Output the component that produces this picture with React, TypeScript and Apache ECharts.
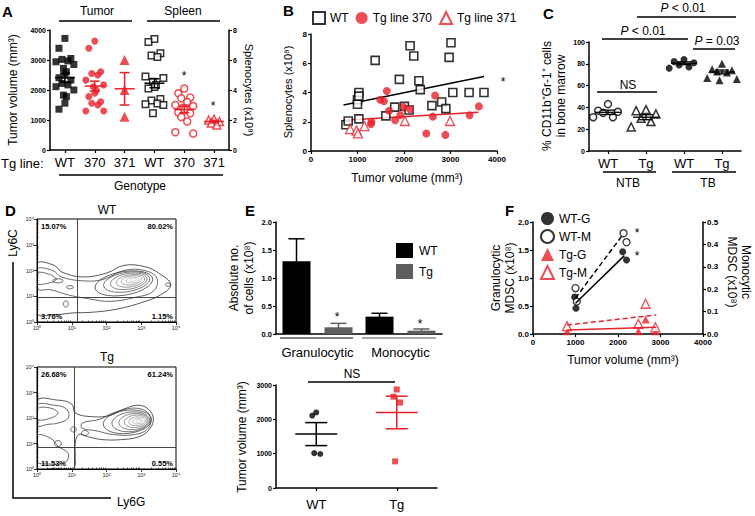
import React, { useEffect, useRef } from 'react';
import * as echarts from 'echarts';

const FONT = '"Liberation Sans", Arial, Helvetica, sans-serif';
const RED = '#e8202a';
const GREY = '#5e5e5e';

// ---------------- Panel A ----------------
const aTickLabels = ['WT', '370', '371', 'WT', '370', '371'];
const aTumorWT = [3720, 3390, 3050, 3020, 2970, 2940, 2850, 2720, 2610, 2500, 2410, 2330, 2220, 2170, 2110, 2000, 1830, 1780, 1560, 1360];
const aTumor370 = [3630, 3390, 2610, 2550, 2500, 2330, 2170, 2110, 2000, 1890, 1780, 1610, 1560, 1500, 1300, 1300];
const aTumor371 = [3000, 2000, 1110];
const aSpleenWT = [7.4, 7.2, 6.45, 6.3, 6.2, 4.9, 4.8, 4.55, 4.33, 4.2, 4.1, 3.4, 3.3, 3.1, 3.05, 3.0, 2.45];
const aSpleen370 = [4.1, 3.78, 3.5, 3.45, 3.2, 3.0, 2.93, 2.82, 2.78, 2.67, 2.5, 2.45, 2.2, 1.9, 1.18, 1.1];
const aSpleen371 = [2.05, 2.0, 1.9, 1.8, 1.67];
const aTumorMean = [2410, 2130, 2040];
const aTumorSem = [150, 165, 540];
const aSpleenMean = [4.45, 2.7, 1.9];
const aSpleenSem = [0.3, 0.22, 0.08];

// ---------------- Panel B ----------------
const bWT = [[750, 1.8], [800, 2.05], [1030, 2.2], [1000, 3.5], [1000, 3.2], [1030, 4.0], [1030, 3.75], [1380, 6.2], [1610, 2.4], [1900, 4.9], [1800, 3.0], [2010, 3.05], [2110, 2.8], [2130, 7.2], [2210, 6.5], [2320, 4.8], [2350, 4.2], [2600, 3.1], [2810, 3.35], [2900, 2.9], [2970, 6.4], [3010, 7.4], [3050, 4.0], [3400, 4.0], [3720, 4.0]];
const bTg370 = [[1300, 2.0], [1290, 1.85], [1490, 3.5], [1570, 3.4], [1630, 4.1], [1680, 2.75], [1810, 2.1], [1920, 2.45], [1990, 3.0], [2130, 2.85], [2480, 1.2], [2620, 2.35], [2670, 3.8], [2890, 1.1], [3410, 2.45], [3610, 3.05]];
const bTg371 = [[840, 1.5], [980, 1.4], [1010, 1.2], [1150, 1.7], [2020, 2.05], [2990, 2.05]];
const bWTFit = [[700, 3.15], [3720, 5.1]];
const bTgFit = [[700, 2.1], [3600, 2.65]];

// ---------------- Panel C ----------------
const cTickLabels = ['WT', 'Tg', 'WT', 'Tg'];
const cNtbWT = [43, 37, 36, 35, 31, 31];
const cNtbTg = [38, 37, 34, 30, 27, 22];
const cTbWT = [84, 82, 81, 79, 77, 76];
const cTbTg = [80, 75, 74, 73, 72, 67, 66, 65];
const cMean = [35.5, 31, 80.5, 72.5];
const cSem = [2, 2.3, 1.3, 1.8];

// ---------------- Panel D ----------------
const dWTPct = ['15.07%', '80.02%', '3.76%', '1.15%'];
const dTgPct = ['26.68%', '61.24%', '11.53%', '0.55%'];
const dWTGate = [1.15, 0.97];
const dTgGate = [1.06, 0.86];
const dWTTraced = [
  [[0, 2.25], [0.5, 2.2], [0.7, 1.95], [1.3, 1.75], [2.0, 1.9], [2.5, 2.2], [3.1, 2.15], [3.5, 1.9], [3.85, 1.45], [3.55, 1.05], [3.0, 0.75], [2.3, 0.5], [1.6, 0.38], [1.0, 0.35], [0.5, 0.28], [0, 0.35]],
  [[0, 2.05], [0.45, 2.0], [0.7, 1.75], [1.3, 1.6], [1.9, 1.65], [2.5, 2.0], [3.1, 2.0], [3.45, 1.7], [3.35, 1.2], [2.8, 0.95], [2.1, 0.8], [1.5, 0.9], [0.9, 1.05], [0.4, 1.25], [0, 1.3]],
  [[0, 1.9], [0.35, 1.85], [0.55, 1.65], [0.3, 1.5], [0, 1.5]],
];
const dWTCore = [[2.5, 1.5, 0.85, 0.45, 15], [2.58, 1.55, 0.68, 0.37, 15], [2.64, 1.58, 0.54, 0.3, 15], [2.69, 1.6, 0.42, 0.23, 15], [2.72, 1.62, 0.3, 0.17, 15], [2.75, 1.63, 0.19, 0.11, 15], [2.77, 1.64, 0.09, 0.06, 15]];
const dWTLoops = [[3.77, 1.45, 0.07, 0.07, 0], [0.83, 0.7, 0.07, 0.12, 0], [0.6, 1.6, 0.15, 0.08, 0], [0.95, 1.35, 0.1, 0.06, 0]];
const dTgTraced = [
  [[0, 2.65], [0.6, 2.7], [1.0, 2.55], [1.1, 2.2], [1.6, 2.05], [2.1, 2.1], [2.5, 2.35], [2.9, 2.5], [3.2, 2.35], [3.35, 1.95], [3.2, 1.5], [2.9, 1.25], [2.4, 1.15], [1.9, 1.15], [1.5, 1.25], [1.2, 1.35], [1.1, 1.0], [1.1, 0.5], [1.05, 0.05], [0.5, 0.03], [0, 0.05]],
  [[1.3, 1.8], [1.8, 1.95], [2.3, 2.25], [2.9, 2.38], [3.25, 2.1], [3.2, 1.6], [2.8, 1.35], [2.2, 1.35], [1.7, 1.5], [1.3, 1.6]],
  [[0, 2.5], [0.5, 2.5], [0.85, 2.35], [0.9, 2.0], [0.6, 1.8], [0.3, 1.75], [0, 1.7]],
  [[0, 2.35], [0.35, 2.4], [0.6, 2.2], [0.4, 2.0], [0, 1.95]],
  [[0, 1.3], [0.4, 1.2], [0.6, 0.9], [0.9, 0.6], [0.8, 0.25], [0.3, 0.2], [0, 0.3]],
];
const dTgCore = [[2.6, 1.85, 0.7, 0.45, 12], [2.7, 1.85, 0.55, 0.38, 12], [2.78, 1.86, 0.43, 0.31, 12], [2.84, 1.87, 0.33, 0.24, 12], [2.88, 1.87, 0.24, 0.17, 12], [2.9, 1.87, 0.15, 0.1, 12], [2.92, 1.87, 0.07, 0.05, 12]];
const dTgLoops = [[1.38, 1.41, 0.1, 0.1, 0], [1.05, 1.55, 0.08, 0.1, 0], [0.6, 1.0, 0.1, 0.12, 0]];

// ---------------- Panel E ----------------
const eCats = ['Granulocytic', 'Monocytic'];
const eWT = [1.3, 0.31];
const eTg = [0.12, 0.06];
const eWTErr = [0.4, 0.06];
const eTgErr = [0.07, 0.03];
const eTickLabels = ['WT', 'Tg'];
const eTumorWT = [2200, 2110, 990, 1015];
const eTumorTg = [2870, 2660, 2490, 775];
const eTumorMean = [1570, 2200];
const eTumorSem = [335, 475];

// ---------------- Panel F ----------------
const fWTG = [[980, 0.66], [1010, 0.46], [2110, 1.47], [2200, 1.32]];
const fWTM = [[1000, 0.205], [1030, 0.145], [2130, 0.45], [2200, 0.41]];
const fTgG = [[800, 0.05], [2480, 0.05], [2650, 0.26], [2880, 0.05]];
const fTgM = [[800, 0.035], [2480, 0.045], [2650, 0.135], [2880, 0.03]];
const fWTGFit = [[1000, 0.55], [2150, 1.4]];
const fWTMFit = [[1000, 0.16], [2100, 0.44]];
const fTgGFit = [[800, 0.07], [2900, 0.12]];
const fTgMFit = [[800, 0.04], [2900, 0.085]];

// ---------------- helpers ----------------
const SWARM = [0, -0.2, 0.2, -0.1, 0.1, -0.3, 0.3, -0.05, 0.05];
const swarm = (vals: number[], pos: number, spread: number) =>
  vals.map((v, i) => [pos + SWARM[i % SWARM.length] * spread, v]);

const LOG_MINOR: number[] = [];
for (let d = 0; d < 4; d++) for (let k = 2; k <= 9; k++) LOG_MINOR.push(d + Math.log10(k));
const SUP = ['⁰', '¹', '²', '³', '⁴'];

function ax(gridIndex: number, o: any = {}, lbl: any = {}, tick: any = {}, line: any = {}) {
  return {
    gridIndex,
    type: 'value',
    axisLine: { show: true, onZero: false, lineStyle: { color: '#000', width: 1.5, ...line } },
    axisTick: { show: true, length: 3, lineStyle: { color: '#000', width: 1.2 }, ...tick },
    axisLabel: { color: '#000', fontSize: 7, fontWeight: 'bold', fontFamily: FONT, margin: 4, formatter: (v: number) => String(v), ...lbl },
    splitLine: { show: false },
    ...o,
  };
}

const logLbl = { fontSize: 5.5, fontWeight: 'normal', color: '#222', margin: 3, formatter: (v: number) => '10' + SUP[Math.round(v)] };
const minorAxis = (g: number) => ({
  gridIndex: g, type: 'value', min: 0, max: 4,
  axisLine: { show: false }, axisLabel: { show: false }, splitLine: { show: false },
  axisTick: { show: true, length: 1.5, customValues: LOG_MINOR, lineStyle: { color: '#000', width: 0.6 } },
});

function meanSemRender(meanHalf: number, capHalf: number, lw: number) {
  return (params: any, api: any) => {
    const x = api.value(0), m = api.value(1), s = api.value(2);
    const pm = api.coord([x, m]);
    const pt = api.coord([x, m + s]);
    const pb = api.coord([x, m - s]);
    const st = { stroke: api.visual('color'), lineWidth: lw };
    return {
      type: 'group',
      children: [
        { type: 'line', shape: { x1: pm[0] - meanHalf, y1: pm[1], x2: pm[0] + meanHalf, y2: pm[1] }, style: st },
        { type: 'line', shape: { x1: pt[0], y1: pt[1], x2: pb[0], y2: pb[1] }, style: st },
        { type: 'line', shape: { x1: pt[0] - capHalf, y1: pt[1], x2: pt[0] + capHalf, y2: pt[1] }, style: st },
        { type: 'line', shape: { x1: pb[0] - capHalf, y1: pb[1], x2: pb[0] + capHalf, y2: pb[1] }, style: st },
      ],
    };
  };
}

function ellipsePts(cx: number, cy: number, rx: number, ry: number, rotDeg: number) {
  const pts: number[][] = [];
  const r = (rotDeg * Math.PI) / 180;
  for (let k = 0; k < 36; k++) {
    const t = (k / 36) * 2 * Math.PI;
    const ex = rx * Math.cos(t), ey = ry * Math.sin(t);
    pts.push([cx + ex * Math.cos(r) - ey * Math.sin(r), cy + ex * Math.sin(r) + ey * Math.cos(r)]);
  }
  return pts;
}

type Shape = { pts: number[][]; color: string; smooth: number };
function buildShapes(traced: number[][][], core: number[][], loops: number[][]): Shape[] {
  const out: Shape[] = [];
  traced.forEach((pts, i) => out.push({ pts, color: i === 0 ? '#111' : '#2a2a2a', smooth: 0.4 }));
  core.forEach((e, i) => {
    const g = Math.round(0x22 + (i / Math.max(1, core.length - 1)) * (0xb4 - 0x22));
    const h = g.toString(16).padStart(2, '0');
    out.push({ pts: ellipsePts(e[0], e[1], e[2], e[3], e[4]), color: `#${h}${h}${h}`, smooth: 0 });
  });
  loops.forEach((e) => out.push({ pts: ellipsePts(e[0], e[1], e[2], e[3], e[4]), color: '#222', smooth: 0 }));
  return out;
}

function contourRender(shapes: Shape[]) {
  return (params: any, api: any) => {
    const sh = shapes[params.dataIndex];
    const pts = sh.pts.map((p) => api.coord(p));
    return { type: 'polygon', shape: { points: pts, smooth: sh.smooth }, style: { fill: 'none', stroke: sh.color, lineWidth: 0.7 } };
  };
}

const BAR_OFF = 21;
function barErrRender(params: any, api: any) {
  const cat = api.value(0), v = api.value(1), e = api.value(2), off = api.value(3);
  const p0 = api.coord([cat, v]);
  const p1 = api.coord([cat, v + e]);
  const x = p0[0] + off * BAR_OFF;
  const st = { stroke: api.visual('color'), lineWidth: 1.5 };
  return {
    type: 'group',
    children: [
      { type: 'line', shape: { x1: x, y1: p0[1] + 2, x2: x, y2: p1[1] }, style: st },
      { type: 'line', shape: { x1: x - 8, y1: p1[1], x2: x + 8, y2: p1[1] }, style: st },
    ],
  };
}

const txt = (x: number, y: number, text: string, o: any = {}) => ({
  type: 'text', x, y, rotation: o.rot ?? 0, z: 100,
  style: {
    text, fill: o.color ?? '#000',
    font: `${o.style ?? 'normal'} ${o.weight ?? 'normal'} ${o.size ?? 12}px ${FONT}`,
    align: o.align ?? 'center', verticalAlign: o.va ?? 'middle', rich: o.rich, lineHeight: o.lh,
  },
});
const ln = (x1: number, y1: number, x2: number, y2: number, w = 1.5, color = '#000') => ({
  type: 'line', z: 100, shape: { x1, y1, x2, y2 }, style: { stroke: color, lineWidth: w },
});
const pItal = (t: string, x: number, y: number) =>
  txt(x, y, '{i|P}' + t, { size: 12, rich: { i: { fontStyle: 'italic', fontSize: 12, fontFamily: FONT, fill: '#000' } } });

const openSym = (color: string, bw = 1.5) => ({ color: '#fff', borderColor: color, borderWidth: bw });

export default function App() {
  const ref = useRef<HTMLDivElement>(null);
  useEffect(() => {
    if (!ref.current) return;
    const chart = echarts.init(ref.current, null, { renderer: 'svg' });

    const wtShapes = buildShapes(dWTTraced, dWTCore, dWTLoops);
    const tgShapes = buildShapes(dTgTraced, dTgCore, dTgLoops);

    const gridBox = { show: true, borderColor: '#000', borderWidth: 1, backgroundColor: 'transparent' };

    const option: any = {
      animation: false,
      backgroundColor: '#fff',
      textStyle: { fontFamily: FONT },
      grid: [
        { left: 50, top: 30, width: 179, height: 120 },
        { left: 311, top: 34, width: 186, height: 117 },
        { left: 589, top: 42, width: 152, height: 109 },
        { left: 37, top: 219, width: 139, height: 103, ...gridBox },
        { left: 37, top: 367, width: 139, height: 102, ...gridBox },
        { left: 276, top: 222, width: 166, height: 112 },
        { left: 276, top: 385, width: 161, height: 103 },
        { left: 533, top: 222, width: 170, height: 112 },
      ],
      xAxis: [
        ax(0, { min: 0.5, max: 6.5 }, { customValues: [1, 2, 3, 4, 5, 6], formatter: (v: number) => aTickLabels[Math.round(v) - 1], fontSize: 13, fontWeight: 'normal', margin: 6 }, { customValues: [1, 2, 3, 4, 5, 6] }),
        ax(1, { min: 0, max: 4000, interval: 1000 }, { fontSize: 8 }),
        ax(2, { min: 0.5, max: 4.5 }, { customValues: [1, 2, 3, 4], formatter: (v: number) => cTickLabels[Math.round(v) - 1], fontSize: 13, fontWeight: 'normal', margin: 6 }, { customValues: [1, 2, 3, 4] }),
        ax(3, { min: 0, max: 4, interval: 1 }, logLbl, { lineStyle: { color: '#000', width: 0.8 } }, { width: 1 }),
        minorAxis(3),
        ax(4, { min: 0, max: 4, interval: 1 }, logLbl, { lineStyle: { color: '#000', width: 0.8 } }, { width: 1 }),
        minorAxis(4),
        {
          gridIndex: 5, type: 'category', data: eCats,
          axisLine: { show: true, lineStyle: { color: '#000', width: 1.5 } },
          axisTick: { show: false },
          axisLabel: { color: '#000', fontSize: 13, fontFamily: FONT, margin: 12, interval: 0 },
        },
        ax(6, { min: 0.5, max: 2.5 }, { customValues: [1, 2], formatter: (v: number) => eTickLabels[Math.round(v) - 1], fontSize: 13, fontWeight: 'normal', margin: 10 }, { customValues: [1, 2] }),
        ax(7, { min: 0, max: 4000, interval: 1000 }, { fontSize: 8 }),
      ],
      yAxis: [
        ax(0, { min: 0, max: 4000, interval: 1000 }, { fontSize: 7 }),
        ax(0, { min: 0, max: 8, interval: 2, position: 'right' }, { fontSize: 7 }),
        ax(1, { min: 0, max: 8, interval: 2 }, { fontSize: 8 }),
        ax(2, { min: 0, max: 100, interval: 20 }, { fontSize: 7 }),
        ax(3, { min: 0, max: 4, interval: 1 }, logLbl, { lineStyle: { color: '#000', width: 0.8 } }, { width: 1 }),
        minorAxis(3),
        ax(4, { min: 0, max: 4, interval: 1 }, logLbl, { lineStyle: { color: '#000', width: 0.8 } }, { width: 1 }),
        minorAxis(4),
        ax(5, { min: 0, max: 2, interval: 0.5 }, { fontSize: 7.5, formatter: (v: number) => v.toFixed(1) }),
        ax(6, { min: 0, max: 3000, interval: 1000 }, { fontSize: 7 }),
        ax(7, { min: 0, max: 2, interval: 0.5 }, { fontSize: 8, formatter: (v: number) => v.toFixed(1) }),
        ax(7, { min: 0, max: 0.5, interval: 0.1, position: 'right' }, { fontSize: 8, formatter: (v: number) => v.toFixed(1) }),
      ],
      legend: [
        {
          data: ['WT', 'Tg line 370', 'Tg line 371'], left: 312, top: 11, orient: 'horizontal',
          itemWidth: 12, itemHeight: 12, itemGap: 7, padding: 0, selectedMode: false,
          textStyle: { fontSize: 12, fontFamily: FONT, color: '#000' },
        },
        {
          data: ['WT-G', 'WT-M', 'Tg-G', 'Tg-M'], left: 540, top: 212, orient: 'vertical',
          itemWidth: 13, itemHeight: 13, itemGap: 4, padding: 0, selectedMode: false,
          textStyle: { fontSize: 12, fontFamily: FONT, color: '#000' },
        },
      ],
      series: [
        // ---- A ----
        { type: 'scatter', name: 'A tumor WT', xAxisIndex: 0, yAxisIndex: 0, symbol: 'rect', symbolSize: 7, itemStyle: { color: '#000' }, data: swarm(aTumorWT, 1, 1) },
        { type: 'scatter', name: 'A tumor 370', xAxisIndex: 0, yAxisIndex: 0, symbol: 'circle', symbolSize: 7, itemStyle: { color: RED }, data: swarm(aTumor370, 2, 1) },
        { type: 'scatter', name: 'A tumor 371', xAxisIndex: 0, yAxisIndex: 0, symbol: 'triangle', symbolSize: 10, itemStyle: { color: RED }, data: swarm(aTumor371, 3, 0) },
        { type: 'scatter', name: 'A spleen WT', xAxisIndex: 0, yAxisIndex: 1, symbol: 'rect', symbolSize: 6.5, itemStyle: openSym('#000'), data: swarm(aSpleenWT, 4, 1) },
        { type: 'scatter', name: 'A spleen 370', xAxisIndex: 0, yAxisIndex: 1, symbol: 'circle', symbolSize: 7, itemStyle: openSym(RED), data: swarm(aSpleen370, 5, 1) },
        { type: 'scatter', name: 'A spleen 371', xAxisIndex: 0, yAxisIndex: 1, symbol: 'triangle', symbolSize: 8, itemStyle: openSym(RED), data: swarm(aSpleen371, 6, 0.9) },
        {
          type: 'custom', name: 'A tumor mean', xAxisIndex: 0, yAxisIndex: 0, z: 5, renderItem: meanSemRender(10, 5, 1.5),
          data: aTumorMean.map((m, i) => ({ value: [i + 1, m, aTumorSem[i]], itemStyle: { color: i === 0 ? '#000' : RED } })),
        },
        {
          type: 'custom', name: 'A spleen mean', xAxisIndex: 0, yAxisIndex: 1, z: 5, renderItem: meanSemRender(10, 5, 1.5),
          data: aSpleenMean.map((m, i) => ({ value: [i + 4, m, aSpleenSem[i]], itemStyle: { color: i === 0 ? '#000' : RED } })),
        },
        // ---- B ----
        { type: 'scatter', name: 'WT', xAxisIndex: 1, yAxisIndex: 2, symbol: 'rect', symbolSize: 8, itemStyle: openSym('#000', 1.6), data: bWT },
        { type: 'scatter', name: 'Tg line 370', xAxisIndex: 1, yAxisIndex: 2, symbol: 'circle', symbolSize: 8, itemStyle: { color: RED }, data: bTg370 },
        { type: 'scatter', name: 'Tg line 371', xAxisIndex: 1, yAxisIndex: 2, symbol: 'triangle', symbolSize: 9, itemStyle: openSym(RED, 1.3), data: bTg371 },
        { type: 'line', name: 'B WT fit', xAxisIndex: 1, yAxisIndex: 2, showSymbol: false, symbol: 'none', lineStyle: { color: '#000', width: 1.5 }, data: bWTFit, z: 1 },
        { type: 'line', name: 'B Tg fit', xAxisIndex: 1, yAxisIndex: 2, showSymbol: false, symbol: 'none', lineStyle: { color: RED, width: 1.5 }, data: bTgFit, z: 1 },
        // ---- C ----
        { type: 'scatter', name: 'C NTB WT', xAxisIndex: 2, yAxisIndex: 3, symbol: 'circle', symbolSize: 7, itemStyle: openSym('#000'), data: swarm(cNtbWT, 1, 1.3) },
        { type: 'scatter', name: 'C NTB Tg', xAxisIndex: 2, yAxisIndex: 3, symbol: 'triangle', symbolSize: 8, itemStyle: openSym('#000'), data: swarm(cNtbTg, 2, 1.3) },
        { type: 'scatter', name: 'C TB WT', xAxisIndex: 2, yAxisIndex: 3, symbol: 'circle', symbolSize: 7, itemStyle: { color: '#000' }, data: swarm(cTbWT, 3, 1.3) },
        { type: 'scatter', name: 'C TB Tg', xAxisIndex: 2, yAxisIndex: 3, symbol: 'triangle', symbolSize: 8, itemStyle: { color: '#000' }, data: swarm(cTbTg, 4, 1.3) },
        {
          type: 'custom', name: 'C mean', xAxisIndex: 2, yAxisIndex: 3, z: 5, renderItem: meanSemRender(13, 7, 1.3),
          itemStyle: { color: '#000' },
          data: cMean.map((m, i) => [i + 1, m, cSem[i]]),
        },
        // ---- D ----
        {
          type: 'custom', name: 'D WT', xAxisIndex: 3, yAxisIndex: 4, clip: true, renderItem: contourRender(wtShapes),
          data: wtShapes.map((_, i) => [i]),
          markLine: { silent: true, symbol: ['none', 'none'], label: { show: false }, lineStyle: { color: '#333', width: 0.9, type: 'solid' }, data: [{ xAxis: dWTGate[0] }, { yAxis: dWTGate[1] }] },
        },
        {
          type: 'custom', name: 'D Tg', xAxisIndex: 5, yAxisIndex: 6, clip: true, renderItem: contourRender(tgShapes),
          data: tgShapes.map((_, i) => [i]),
          markLine: { silent: true, symbol: ['none', 'none'], label: { show: false }, lineStyle: { color: '#333', width: 0.9, type: 'solid' }, data: [{ xAxis: dTgGate[0] }, { yAxis: dTgGate[1] }] },
        },
        // ---- E top ----
        { type: 'bar', name: 'E WT', xAxisIndex: 7, yAxisIndex: 8, barWidth: 28, barGap: '50%', itemStyle: { color: '#000' }, data: eWT },
        { type: 'bar', name: 'E Tg', xAxisIndex: 7, yAxisIndex: 8, barWidth: 28, barGap: '50%', itemStyle: { color: GREY }, data: eTg },
        {
          type: 'custom', name: 'E err', xAxisIndex: 7, yAxisIndex: 8, z: 1, renderItem: barErrRender,
          data: [
            ...eWT.map((v, i) => ({ value: [i, v, eWTErr[i], -1], itemStyle: { color: '#000' } })),
            ...eTg.map((v, i) => ({ value: [i, v, eTgErr[i], 1], itemStyle: { color: GREY } })),
          ],
        },
        // ---- E bottom ----
        { type: 'scatter', name: 'E tumor WT', xAxisIndex: 8, yAxisIndex: 9, symbol: 'circle', symbolSize: 6, itemStyle: { color: '#000' }, data: swarm(eTumorWT, 1, 0.25) },
        { type: 'scatter', name: 'E tumor Tg', xAxisIndex: 8, yAxisIndex: 9, symbol: 'rect', symbolSize: 6, itemStyle: { color: RED }, data: swarm(eTumorTg, 2, 0.2) },
        {
          type: 'custom', name: 'E mean', xAxisIndex: 8, yAxisIndex: 9, z: 5, renderItem: meanSemRender(21, 11, 1.5),
          data: eTumorMean.map((m, i) => ({ value: [i + 1, m, eTumorSem[i]], itemStyle: { color: i === 0 ? '#000' : RED } })),
        },
        // ---- F ----
        { type: 'line', name: 'F WT-G fit', xAxisIndex: 9, yAxisIndex: 10, symbol: 'none', lineStyle: { color: '#000', width: 1.5 }, data: fWTGFit },
        { type: 'line', name: 'F WT-M fit', xAxisIndex: 9, yAxisIndex: 11, symbol: 'none', lineStyle: { color: '#000', width: 1.5, type: [5, 3] }, data: fWTMFit },
        { type: 'line', name: 'F Tg-G fit', xAxisIndex: 9, yAxisIndex: 10, symbol: 'none', lineStyle: { color: RED, width: 1.5 }, data: fTgGFit },
        { type: 'line', name: 'F Tg-M fit', xAxisIndex: 9, yAxisIndex: 11, symbol: 'none', lineStyle: { color: RED, width: 1.5, type: [5, 3] }, data: fTgMFit },
        { type: 'scatter', name: 'WT-G', xAxisIndex: 9, yAxisIndex: 10, symbol: 'circle', symbolSize: 7, itemStyle: { color: '#000' }, data: fWTG },
        { type: 'scatter', name: 'WT-M', xAxisIndex: 9, yAxisIndex: 11, symbol: 'circle', symbolSize: 7, itemStyle: openSym('#000', 1.3), data: fWTM },
        { type: 'scatter', name: 'Tg-G', xAxisIndex: 9, yAxisIndex: 10, symbol: 'triangle', symbolSize: 8, itemStyle: { color: RED }, data: fTgG },
        { type: 'scatter', name: 'Tg-M', xAxisIndex: 9, yAxisIndex: 11, symbol: 'triangle', symbolSize: 9, itemStyle: openSym(RED, 1.3), data: fTgM },
      ],
      graphic: {
        elements: [
          // A
          txt(2, 11, 'A', { size: 15, weight: 'bold', align: 'left' }),
          txt(97, 11, 'Tumor', { size: 12 }), ln(59, 21, 132, 21),
          txt(183, 11, 'Spleen', { size: 12 }), ln(147, 21, 220, 21),
          txt(13, 90, 'Tumor volume (mm³)', { size: 12, rot: Math.PI / 2 }),
          txt(249, 90, 'Splenocytes (x10⁸)', { size: 11, rot: -Math.PI / 2 }),
          txt(1, 163, 'Tg line:', { size: 13, align: 'left' }),
          ln(59, 175, 223, 175),
          txt(140, 186, 'Genotype', { size: 12 }),
          txt(184, 76, '*', { size: 12 }),
          txt(213, 106, '*', { size: 12 }),
          // B
          txt(283, 10, 'B', { size: 15, weight: 'bold', align: 'left' }),
          txt(288, 92, 'Splenocytes (x10⁸)', { size: 11, rot: Math.PI / 2 }),
          txt(407, 178, 'Tumor volume (mm³)', { size: 12 }),
          txt(503, 82, '*', { size: 12 }),
          // C
          txt(543, 13, 'C', { size: 15, weight: 'bold', align: 'left' }),
          pItal(' < 0.01', 683, 8), ln(637, 17, 736, 17),
          pItal(' < 0.01', 643, 31), ln(602, 39, 688, 39),
          pItal(' = 0.03', 717, 41), ln(693, 49, 735, 49),
          txt(628, 85, 'NS', { size: 12 }), ln(597, 92, 657, 92),
          txt(554, 96, '% CD11b⁺Gr-1⁺ cells\nin bone marrow', { size: 12, rot: Math.PI / 2, lh: 14 }),
          ln(603, 172, 656, 172), txt(628, 183, 'NTB', { size: 12 }),
          ln(672, 172, 736, 172), txt(708, 183, 'TB', { size: 12 }),
          // D
          txt(5, 210, 'D', { size: 15, weight: 'bold', align: 'left' }),
          txt(107, 210, 'WT', { size: 12 }),
          txt(107, 357, 'Tg', { size: 12 }),
          txt(41, 226, dWTPct[0], { size: 7.5, weight: 'bold', align: 'left' }),
          txt(173, 226, dWTPct[1], { size: 7.5, weight: 'bold', align: 'right' }),
          txt(41, 316, dWTPct[2], { size: 7.5, weight: 'bold', align: 'left' }),
          txt(173, 316, dWTPct[3], { size: 7.5, weight: 'bold', align: 'right' }),
          txt(41, 374, dTgPct[0], { size: 7.5, weight: 'bold', align: 'left' }),
          txt(173, 374, dTgPct[1], { size: 7.5, weight: 'bold', align: 'right' }),
          txt(41, 463, dTgPct[2], { size: 7.5, weight: 'bold', align: 'left' }),
          txt(173, 463, dTgPct[3], { size: 7.5, weight: 'bold', align: 'right' }),
          txt(13, 243, 'Ly6C', { size: 12, rot: Math.PI / 2 }),
          { type: 'polyline', z: 100, shape: { points: [[13, 262], [13, 498], [111, 498]] }, style: { stroke: '#000', lineWidth: 1.5, fill: 'none' } },
          txt(117, 502, 'Ly6G', { size: 12, align: 'left' }),
          // E
          txt(245, 210, 'E', { size: 15, weight: 'bold', align: 'left' }),
          txt(241, 278, 'Absolute no.\nof cells (x10⁸)', { size: 12, rot: Math.PI / 2, lh: 15 }),
          { type: 'rect', z: 100, shape: { x: 396, y: 243, width: 17, height: 15 }, style: { fill: '#000' } },
          txt(419, 251, 'WT', { size: 12, align: 'left' }),
          { type: 'rect', z: 100, shape: { x: 396, y: 264, width: 17, height: 15 }, style: { fill: GREY } },
          txt(419, 272, 'Tg', { size: 12, align: 'left' }),
          ln(280, 338, 353, 338, 1.2), ln(362, 338, 436, 338, 1.2, '#555'),
          txt(337, 317, '*', { size: 12 }),
          txt(420, 324, '*', { size: 12 }),
          txt(242, 437, 'Tumor volume (mm³)', { size: 12, rot: Math.PI / 2 }),
          txt(352, 374, 'NS', { size: 12 }), ln(308, 382, 395, 382),
          // F
          txt(505, 210, 'F', { size: 15, weight: 'bold', align: 'left' }),
          txt(503, 278, 'Granulocytic\nMDSC (x10⁸)', { size: 12, rot: Math.PI / 2, lh: 14 }),
          txt(739, 272, 'Monocytic\nMDSC (x10⁸)', { size: 12, rot: -Math.PI / 2, lh: 14 }),
          txt(623, 360, 'Tumor volume (mm³)', { size: 12 }),
          txt(637, 233, '*', { size: 12 }),
          txt(637, 256, '*', { size: 12 }),
        ],
      },
    };

    chart.setOption(option);
    return () => chart.dispose();
  }, []);

  return <div ref={ref} style={{ position: 'fixed', left: 0, top: 0, width: 755, height: 516 }} />;
}
